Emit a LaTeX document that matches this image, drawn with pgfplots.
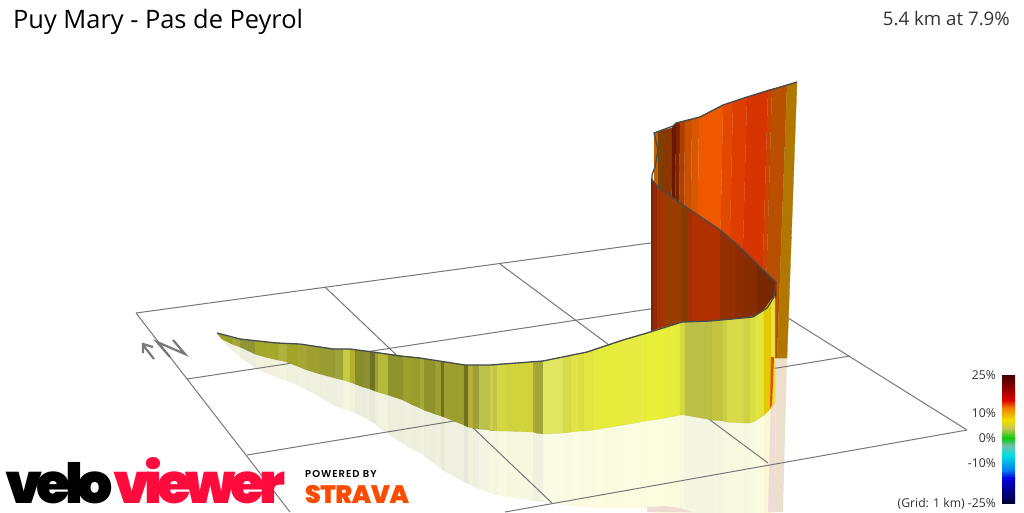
\documentclass[border=0pt]{standalone}
\usepackage{fontspec}
\usepackage{pgfplots}
\pgfplotsset{compat=1.18}
\setmainfont{Open Sans}
\newfontfamily\logofont[LetterSpace=-10]{Poppins Black}
\newfontfamily\stravafont[LetterSpace=-2]{Poppins Black}
\newfontfamily\byfont[LetterSpace=10]{Poppins SemiBold}
\definecolor{gridc}{HTML}{777777}
\definecolor{trackc}{HTML}{464B4D}
\definecolor{textc}{HTML}{333333}
\definecolor{pinkc}{HTML}{F0DCD6}
\definecolor{beigec}{HTML}{ECE0CC}
\definecolor{sliverc}{HTML}{E05000}
\definecolor{cA}{HTML}{3F0000}
\definecolor{cB}{HTML}{B00000}
\definecolor{cC}{HTML}{E00000}
\definecolor{cD}{HTML}{F08000}
\definecolor{cE}{HTML}{F0E000}
\definecolor{cF}{HTML}{C8C850}
\definecolor{cG}{HTML}{10C810}
\definecolor{cH}{HTML}{70C0B0}
\definecolor{cI}{HTML}{00E0E0}
\definecolor{cJ}{HTML}{0080F0}
\definecolor{cK}{HTML}{0000E0}
\definecolor{cL}{HTML}{000060}
\definecolor{cM}{HTML}{000030}
\definecolor{stravac}{HTML}{FC4C02}
\definecolor{veloc}{HTML}{FF0A3C}
\newcount\segn
\let\px\empty
% strip between the previous knot and this one: x, top, bottom, shadow, colour of next strip
\newcommand\kshadow[5]{%
  \ifx\px\empty\else
    \edef\tmp{\noexpand\addplot[fill=\pc,draw=none,fill opacity=.16] coordinates {(\px,\pb)(#1,#3)(#1,#4)(\px,\ps)};}\tmp
  \fi
  \def\px{#1}\def\pt{#2}\def\pb{#3}\def\ps{#4}%
  \advance\segn by 1 \definecolor{s\the\segn}{HTML}{#5}\edef\pc{s\the\segn}}
\newcommand\kfront[5]{%
  \ifx\px\empty\else
    \edef\tmp{\noexpand\addplot[fill=\pc,draw=\pc!92!black,line width=.3pt] coordinates {(\px,\pt)(#1,#2)(#1,#3)(\px,\pb)};}\tmp
  \fi
  \def\px{#1}\def\pt{#2}\def\pb{#3}%
  \advance\segn by 1 \definecolor{s\the\segn}{HTML}{#5}\edef\pc{s\the\segn}}
% wall strip: top x, top y, bottom x, bottom y, colour of next strip
\newcommand\wall[5]{%
  \ifx\px\empty\else
    \edef\tmp{\noexpand\addplot[fill=\pc,draw=\pc!97!black,line width=.3pt] coordinates {(\px,\pt)(#1,#2)(#3,#4)(\qx,\pb)};}\tmp
  \fi
  \def\px{#1}\def\pt{#2}\def\qx{#3}\def\pb{#4}%
  \advance\segn by 1 \definecolor{s\the\segn}{HTML}{#5}\edef\pc{s\the\segn}}
\newcommand\frontknots{%
\k{217}{333}{333}{333}{9AA020}\k{222}{335}{339}{341}{9AA020}\k{232}{338}{344}{350}{A6A838}
\k{240}{339}{347}{357}{8F9535}\k{255}{341}{354}{368}{A5A82A}\k{265}{342}{357}{373}{A5A82A}
\k{278}{343}{360}{378}{AFB23C}\k{287}{343.5}{362}{381}{A2A428}\k{297}{344}{366}{385}{A6A635}
\k{307}{345.5}{370}{390}{A0A030}\k{320}{347}{374}{397}{999B33}\k{335}{349}{378}{406}{A0A23C}
\k{343}{349}{380}{409}{C6CC40}\k{350}{349}{382}{411}{B0B033}\k{355}{350}{384}{413}{888C28}
\k{363}{351}{387}{417}{8C9030}\k{370}{352}{389}{421}{6F7222}\k{375}{352.5}{391}{424}{A0A030}
\k{378}{353}{392}{427}{B5B838}\k{388}{354}{395}{434}{8F9428}\k{403}{356}{400}{444}{9DA02C}
\k{413}{357}{405}{450}{9A9E2A}\k{420}{358}{408}{453}{A6A93A}\k{424}{359}{410}{456}{8F932A}
\k{435}{361}{414}{464}{9EA130}\k{441}{362}{416}{469}{6F7220}\k{444}{362}{417}{471}{9C9F2E}
\k{464}{365}{425}{482}{6F7220}\k{468}{365}{427}{484}{B4B03A}\k{473}{365}{428}{486}{A0A038}
\k{479}{365}{429}{489}{BCC04C}\k{490}{365}{430}{493}{CDD04A}\k{493}{365}{430}{494}{C2C648}
\k{497}{365}{431}{495}{D5D844}\k{507}{364}{431}{497}{D0D33C}\k{533}{362}{432}{501}{A8AA3A}
\k{536}{362}{433}{501}{A2A538}\k{543}{361}{434}{502}{E0E660}\k{563}{357}{433}{505}{D8DC48}
\k{571}{355}{432}{506}{E0E448}\k{579}{354}{431}{507}{DDE040}\k{584}{353}{431}{507}{E2E640}
\k{593}{350}{430}{508}{E6EA3C}\k{605}{347}{428}{508}{E6EC3A}\k{623}{340}{425}{508}{E8EC40}
\k{646}{333}{421}{508}{E8F038}\k{665}{327}{418}{519}{E6EC3A}\k{680}{323}{415}{522}{D5D840}
\k{685}{322}{415}{523}{BCBF45}\k{712}{321}{420}{528}{C2C440}\k{723}{320}{421}{530}{CCCF45}
\k{727}{320}{422}{531}{D8DA48}\k{744}{318}{423}{534}{CFD245}\k{750}{317}{423}{535}{DCDE48}
\k{755}{316}{421}{536}{E2E43C}\k{764}{310}{415}{538}{E4C800}\k{771}{300}{408}{540}{E8E040}
\k{775}{296}{403}{540}{E8E040}}
\begin{document}
\begin{tikzpicture}
\begin{axis}[
  scale only axis, width=1024pt, height=512pt,
  xmin=0, xmax=1024, ymin=0, ymax=512, y dir=reverse,
  hide axis, clip=true,
]
% keep the page at the full axis size
\path (rel axis cs:0,0) rectangle (rel axis cs:1,1);
% shadow of the ribbon
\let\k\kshadow \let\px\empty \frontknots
\addplot[fill=pinkc,draw=none] coordinates {(771,400)(776,357)(775,512)(768,512)};
\addplot[fill=beigec,draw=none] coordinates {(776,357)(787,358)(783,512)(775,512)};
\addplot[fill=pinkc,draw=none] coordinates {(647,512)(647,507)(665,506)(680,508)(692,512)};
% grid
\addplot[gridc,line width=1pt] coordinates {(136,313)(665,241)};
\addplot[gridc,line width=1pt] coordinates {(187,379)(749,294)};
\addplot[gridc,line width=1pt] coordinates {(247,455)(850,356)};
\addplot[gridc,line width=1pt] coordinates {(967,430)(505,512)};
\addplot[gridc,line width=1pt] coordinates {(136,313)(290,512)};
\addplot[gridc,line width=1pt] coordinates {(325,287)(552,503)};
\addplot[gridc,line width=1pt] coordinates {(500,264)(768,463)};
\addplot[gridc,line width=1pt] coordinates {(665,241)(967,430)};
% far wall
\let\k\wall \let\px\empty
\k{654}{133}{654}{360}{C86000}\k{658}{132}{658}{360}{7C4000}\k{664}{130}{663}{360}{8A3600}
\k{672}{128}{671}{360}{6C1800}\k{676}{123}{674}{360}{7C2400}\k{680}{122}{678}{360}{B04000}
\k{685}{121}{683}{360}{C85000}\k{692}{119}{689}{360}{D85800}\k{699}{117}{696}{360}{F05800}
\k{723}{105}{718}{360}{E24800}\k{733}{102}{727}{360}{DF3C00}\k{747}{97}{740}{360}{D63400}
\k{768}{90}{760}{360}{C84400}\k{772}{89}{764}{360}{B85000}\k{787}{85}{777}{358}{B07800}
\k{797}{82}{787}{358}{B07800}
% near wall
\let\px\empty
\k{651}{178}{651}{336}{7A2400}\k{653}{181}{653}{336}{8C2C00}\k{657}{186}{657}{335}{A83000}
\k{663}{191}{663}{333}{9A3C00}\k{682}{204}{682}{327}{843C00}\k{687}{208}{687}{325}{A03000}
\k{692}{211}{692}{325}{B03000}\k{720}{230}{720}{323}{943000}\k{735}{243}{735}{321}{8C2C00}
\k{745}{252}{745}{320}{872C00}\k{757}{264}{757}{318}{762800}\k{776}{282}{776}{298}{762800}
% ribbon in front
\let\k\kfront \let\px\empty \frontknots
\addplot[fill=sliverc,draw=none] coordinates {(771,357)(774,357)(772,405)(770,408)};
% road line
\addplot[trackc,line width=1.3pt] coordinates {(217,333)(240,339)(277,343)(300,344)(333,349)(350,349)(373,352)(400,356)(420,358)(465,365)(490,365)(543,361)(587,352)(623,340)(647,333)(682,322)(710,321)(753,317)(767,308)(774,297)(776,282)(763,270)(743,250)(720,230)(683,205)(658,187)(652,180)(652,175)(655,167)(658,150)(654,133)(673,126)(676,123)(700,117)(723,105)(747,97)(767,91)(797,82)};
% compass
\addplot[gridc,line width=2.2pt] coordinates {(154,359)(143,345)};
\addplot[gridc,line width=2.2pt] coordinates {(143,353)(143,344)(153,347)};
\addplot[gridc,line width=2.2pt] coordinates {(170,357)(157,342)(185,354)(173,340)};
% colour scale
\addplot[draw=none,top color=cA,bottom color=cB] coordinates {(1002,375)(1015,375)(1015,393)(1002,393)};
\addplot[draw=none,top color=cB,bottom color=cC] coordinates {(1002,393)(1015,393)(1015,400)(1002,400)};
\addplot[draw=none,top color=cC,bottom color=cD] coordinates {(1002,400)(1015,400)(1015,408)(1002,408)};
\addplot[draw=none,top color=cD,bottom color=cE] coordinates {(1002,408)(1015,408)(1015,420)(1002,420)};
\addplot[draw=none,top color=cE,bottom color=cF] coordinates {(1002,420)(1015,420)(1015,428)(1002,428)};
\addplot[draw=none,top color=cF,bottom color=cG] coordinates {(1002,428)(1015,428)(1015,438)(1002,438)};
\addplot[draw=none,top color=cG,bottom color=cH] coordinates {(1002,438)(1015,438)(1015,446)(1002,446)};
\addplot[draw=none,top color=cH,bottom color=cI] coordinates {(1002,446)(1015,446)(1015,455)(1002,455)};
\addplot[draw=none,top color=cI,bottom color=cJ] coordinates {(1002,455)(1015,455)(1015,470)(1002,470)};
\addplot[draw=none,top color=cJ,bottom color=cK] coordinates {(1002,470)(1015,470)(1015,478)(1002,478)};
\addplot[draw=none,top color=cK,bottom color=cL] coordinates {(1002,478)(1015,478)(1015,497)(1002,497)};
\addplot[draw=none,top color=cL,bottom color=cM] coordinates {(1002,497)(1015,497)(1015,503)(1002,503)};
% text
\node[anchor=base west,inner sep=0pt,text=black,font=\fontsize{25.4}{28}\selectfont] at (13,28) {Puy Mary - Pas de Peyrol};
\node[anchor=base east,inner sep=0pt,text=textc,font=\fontsize{18.7}{20}\selectfont] at (1010,25) {5.4 km at 7.9\%};
\node[anchor=base east,inner sep=0pt,text=textc,font=\fontsize{12.2}{14}\selectfont] at (996,379) {25\%};
\node[anchor=base east,inner sep=0pt,text=textc,font=\fontsize{12.2}{14}\selectfont] at (996,417) {10\%};
\node[anchor=base east,inner sep=0pt,text=textc,font=\fontsize{12.2}{14}\selectfont] at (996,442) {0\%};
\node[anchor=base east,inner sep=0pt,text=textc,font=\fontsize{12.2}{14}\selectfont] at (996,467) {-10\%};
\node[anchor=base east,inner sep=0pt,text=textc,font=\fontsize{12.2}{14}\selectfont] at (996,507) {(Grid: 1 km) -25\%};
% logos
\node[anchor=base west,inner sep=0pt,font=\fontsize{55.5}{60}\logofont] at (5,503) {\textcolor{black}{velo}\textcolor{veloc}{viewer}};
\node[anchor=base west,inner sep=0pt,text=black,font=\fontsize{10}{11}\byfont] at (305,477) {POWERED BY};
\node[anchor=base west,inner sep=0pt,text=stravac,font=\fontsize{25.2}{26}\stravafont] at (305,503) {STRAVA};
\end{axis}
\end{tikzpicture}
\end{document}
